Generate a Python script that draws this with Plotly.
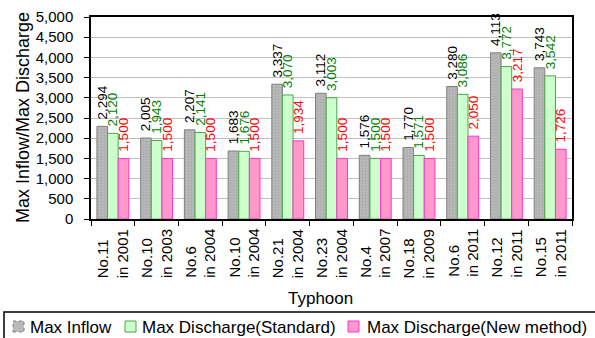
import plotly.graph_objects as go

typhoons = ["No.11<br>in 2001", "No.10<br>in 2003", "No.6<br>in 2004", "No.10<br>in 2004",
            "No.21<br>in 2004", "No.23<br>in 2004", "No.4<br>in 2007", "No.18<br>in 2009",
            "No.6<br>in 2011", "No.12<br>in 2011", "No.15<br>in 2011"]
max_inflow = [2294, 2005, 2207, 1683, 3337, 3112, 1576, 1770, 3280, 4113, 3743]
max_discharge_standard = [2120, 1943, 2141, 1676, 3070, 3003, 1500, 1571, 3086, 3772, 3542]
max_discharge_new = [1500, 1500, 1500, 1500, 1934, 1500, 1500, 1500, 2050, 3217, 1726]
y_ticks = [0, 500, 1000, 1500, 2000, 2500, 3000, 3500, 4000, 4500, 5000]

FONT = "Liberation Sans, Arial, sans-serif"
W, H = 595, 338
L, R, T, B = 91, 572, 17, 219   # plot-area edges in pixels


def xp(px):
    return (px - L) / (R - L)


def yp(py):
    return (B - py) / (B - T)


series = [
    # name, values, fill, edge, label colour, legend icon x, legend text x
    ("Max Inflow", max_inflow, "#b9b9b9", "#808080", "black", 13, 28),
    ("Max Discharge(Standard)", max_discharge_standard, "#ccffcc", "#4aa84a", "#008000", 125, 140),
    ("Max Discharge(New method)", max_discharge_new, "#ff99cc", "#ff33cc", "red", 348, 365),
]

fig = go.Figure()
shapes = []
annotations = []
for i, (name, vals, fill, edge, tcol, icon_x, text_x) in enumerate(series):
    marker = dict(color=fill, line=dict(color=edge, width=1))
    if i == 0:
        marker["pattern"] = dict(shape=".", fgcolor="#9a9a9a", bgcolor=fill, size=3, solidity=0.3)
    fig.add_trace(go.Bar(
        name=name, x=typhoons, y=vals, marker=marker, showlegend=False,
        texttemplate="\u00a0%{y:,}", textposition="outside", textangle=-90,
        textfont=dict(family=FONT, size=13.5, color=tcol),
        constraintext="none", cliponaxis=False,
    ))
    # legend entry
    shapes.append(dict(type="rect", xref="paper", yref="paper",
                       x0=xp(icon_x), x1=xp(icon_x + 11), y0=yp(332), y1=yp(321),
                       fillcolor=fill, line=dict(color=edge, width=1, dash="dot" if i == 0 else "solid")))
    annotations.append(dict(text=name, xref="paper", yref="paper", x=xp(text_x), y=yp(327),
                            xanchor="left", yanchor="middle", showarrow=False,
                            font=dict(size=17, color="black")))

# legend frame
shapes.append(dict(type="rect", xref="paper", yref="paper", x0=xp(4), x1=xp(620),
                   y0=yp(350), y1=yp(312), line=dict(color="black", width=1.5),
                   fillcolor="rgba(0,0,0,0)"))

# category labels, lines aligned at the bottom
for cat in typhoons:
    annotations.append(dict(text=cat, xref="x", yref="paper", x=cat, y=0, yshift=-8,
                            xanchor="center", yanchor="top", textangle=-90, align="left",
                            showarrow=False, font=dict(size=15, color="black")))

# axis titles
annotations.append(dict(text="Typhoon", xref="paper", yref="paper", x=xp(320), y=yp(298),
                        xanchor="center", yanchor="middle", showarrow=False,
                        font=dict(size=17, color="black")))
annotations.append(dict(text="Max Inflow/Max Discharge", xref="paper", yref="paper",
                        x=xp(23), y=0.5, xanchor="center", yanchor="middle", textangle=-90,
                        showarrow=False, font=dict(size=18, color="black")))

fig.update_layout(
    width=W, height=H,
    margin=dict(l=L, r=W - R, t=T, b=H - B, autoexpand=False),
    barmode="group", bargap=0.27, bargroupgap=0,
    plot_bgcolor="white", paper_bgcolor="white",
    font=dict(family=FONT, size=15, color="black"),
    showlegend=False,
    xaxis=dict(
        showticklabels=False, ticks="outside", tickson="boundaries", ticklen=5,
        tickcolor="black", showline=True, linecolor="black", linewidth=1.5, mirror=True,
    ),
    yaxis=dict(
        range=[0, 5000], tickvals=y_ticks, tickformat=",", ticks="outside", ticklen=5,
        tickcolor="black", showline=True, linecolor="black", linewidth=1.5, mirror=True,
        showgrid=True, gridcolor="#c0c0c0", gridwidth=1, tickfont=dict(size=15),
        ticklabelstandoff=8,
    ),
    shapes=shapes,
    annotations=annotations,
)

fig.write_html("out.html")
